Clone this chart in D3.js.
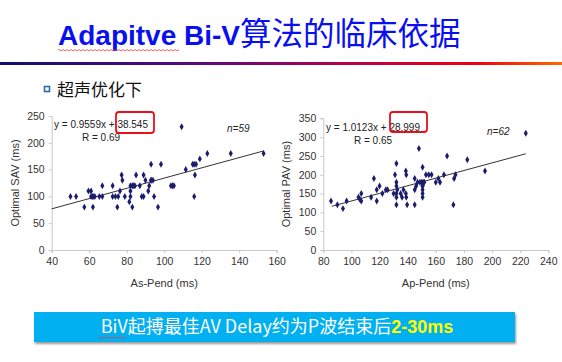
<!DOCTYPE html>
<html><head><meta charset="utf-8">
<script src="https://cdn.jsdelivr.net/npm/d3@7"></script>
<style>
body{margin:0;background:#fff;}
svg{display:block;}
</style></head>
<body>
<svg id="c" width="562" height="362"></svg>
<script>
// ---- data ----
const leftX = [50,53,57.4,59.6,61,61,62,63,62,65.4,67,67,72.5,72.5,74,75,75.5,76.4,77.3,77.7,79,81.4,82,82,82,83,83.6,84.4,85,87,88,89,89,90,91.5,92,93,93,94,94.6,96.7,98.3,103.6,104.5,105.2,109.3,111.5,115.2,116,116.4,116,117,119,123,135.5,153,62,93,83];
const leftY = [100,100,80,110,110,100,100,100,80,100,120,100,120,100,100,80,100,110,140,130,100,90,110,120,100,80,120,120,140,120,100,100,140,130,110,120,160,130,130,100,80,160,120,120,120,230,150,160,160,140,100,160,170,180,180,180,100,130,120];
const rightX = [85.5,90,94,96.6,105,106,107,107,114,116,118,118,120,122,124.5,125.7,130,131,132,132,132,132,132,132.6,135,136,137,138.7,138.7,139,139,139.6,145,145,145,146,147,148,148.7,150,150.6,150.6,150.6,150.6,150.6,151,151.8,153,155,157,160,161.8,163,165.8,168,172.5,173,174,182.4,195,224,132,150.6];
const rightY = [130,120,110,130,140,135,130,150,140,190,160,130,170,150,160,160,150,200,140,230,180,170,120,160,150,140,160,210,150,200,140,120,190,160,120,170,180,270,180,180,220,170,160,150,140,180,180,200,200,200,180,190,180,200,250,120,190,200,240,210,310,150,170];
const leftXTicks = [40,60,80,100,120,140,160];
const leftYTicks = [0,50,100,150,200,250];
const rightXTicks = [80,100,120,140,160,180,200,220,240];
const rightYTicks = [0,50,100,150,200,250,300,350];
const leftFit = {slope:0.9559, intercept:38.545, x0:40, x1:153};
const rightFit = {slope:1.0123, intercept:28.999, x0:86, x1:224};

const svg = d3.select("#c");
const F = "'Liberation Sans', Arial, sans-serif";
const CJK = "'Noto Sans CJK SC', sans-serif";

// ---- title ----
const title = svg.append("text").attr("x",58).attr("y",45).attr("fill","#0a0ff0");
title.append("tspan").attr("font-family",F).attr("font-weight","bold").attr("font-size",28).text("Adapitve Bi-V");
title.append("tspan").attr("font-family",CJK).attr("font-size",31.5).attr("font-weight",400).text("算法的临床依据");
// spell-check wavy underline under "Adapitve"
{
  let p = "M58,49.5"; for(let x=58;x<180;x+=2){p += ` L${x+1},${(x/2)%2===0?51:49.5}`;}
  svg.append("path").attr("d",p).attr("fill","none").attr("stroke","#e04040").attr("stroke-width",0.8);
}
// gradient rule
const defs = svg.append("defs");
const g = defs.append("linearGradient").attr("id","rule").attr("x1","0").attr("x2","1");
[[0,"#101070"],[0.35,"#5a0a80"],[0.6,"#b00050"],[0.85,"#f00010"],[1,"#ff6a00"]].forEach(([o,c])=>g.append("stop").attr("offset",o).attr("stop-color",c));
svg.append("rect").attr("x",0).attr("y",62).attr("width",562).attr("height",3).attr("fill","url(#rule)");

// bullet
svg.append("rect").attr("x",44.5).attr("y",86.5).attr("width",5).attr("height",5).attr("fill","#fff").attr("stroke","#2f6aa8").attr("stroke-width",1.6);
svg.append("text").attr("x",57).attr("y",96).attr("font-family",CJK).attr("font-size",17).attr("fill","#111").text("超声优化下");

// ---- charts ----
function chart(o){
  const x = d3.scaleLinear().domain(o.xd).range([o.l,o.r]);
  const y = d3.scaleLinear().domain(o.yd).range([250,o.t]);
  const gx = svg.append("g").attr("transform","translate(0,250)")
    .call(d3.axisBottom(x).tickValues(o.xt).tickSize(3).tickPadding(5));
  const gy = svg.append("g").attr("transform",`translate(${o.l},0)`)
    .call(d3.axisLeft(y).tickValues(o.yt).tickSize(3).tickPadding(4));
  [gx,gy].forEach(a=>{
    a.selectAll("path,line").attr("stroke","#c8c8c8");
    a.selectAll("text").attr("font-family",F).attr("font-size",10.5).attr("fill","#333");
  });
  // fit line
  svg.append("line")
    .attr("x1",x(o.fit.x0)).attr("y1",y(o.fit.slope*o.fit.x0+o.fit.intercept))
    .attr("x2",x(o.fit.x1)).attr("y2",y(o.fit.slope*o.fit.x1+o.fit.intercept))
    .attr("stroke","#333").attr("stroke-width",1);
  // points
  svg.append("g").selectAll("path").data(o.xs.map((d,i)=>[d,o.ys[i]])).join("path")
    .attr("d",d3.symbol(d3.symbolDiamond,14))
    .attr("transform",d=>`translate(${x(d[0])},${y(d[1])})`)
    .attr("fill","#1c1c6c");
  // labels
  svg.append("text").attr("x",(o.l+o.r)/2).attr("y",287).attr("text-anchor","middle")
    .attr("font-family",F).attr("font-size",11).attr("fill","#333").text(o.xl);
  svg.append("text").attr("transform",`translate(${o.yLx},${(250+o.t)/2}) rotate(-90)`).attr("text-anchor","middle")
    .attr("font-family",F).attr("font-size",11).attr("fill","#333").text(o.yl);
  svg.append("text").attr("x",o.eqx).attr("y",o.eqy).attr("font-family",F).attr("font-size",10).attr("fill","#222").text(o.eq);
  svg.append("text").attr("x",o.rx).attr("y",o.eqy+12.5).attr("font-family",F).attr("font-size",10).attr("fill","#222").text(o.rtext);
  svg.append("text").attr("x",o.nx).attr("y",o.eqy+4).attr("font-family",F).attr("font-size",10).attr("font-style","italic").attr("fill","#222").text(o.n);
  svg.append("rect").attr("x",o.box[0]).attr("y",o.box[1]).attr("width",o.box[2]).attr("height",o.box[3])
    .attr("rx",3).attr("fill","none").attr("stroke","#e8101a").attr("stroke-width",1.8);
}
chart({xd:[40,160],yd:[0,250],l:51.7,r:276.7,t:116,xt:leftXTicks,yt:leftYTicks,fit:leftFit,xs:leftX,ys:leftY,
  xl:"As-Pend (ms)",yl:"Optimal SAV (ms)",yLx:19,eq:"y = 0.9559x + 38.545",eqx:54,eqy:128,rtext:"R = 0.69",rx:82,n:"n=59",nx:227,
  box:[116,112,38,21]});
chart({xd:[80,240],yd:[0,350],l:323.3,r:548.3,t:118.3,xt:rightXTicks,yt:rightYTicks,fit:rightFit,xs:rightX,ys:rightY,
  xl:"Ap-Pend (ms)",yl:"Optimal PAV (ms)",yLx:290,eq:"y = 1.0123x + 28.999",eqx:326,eqy:131,rtext:"R = 0.65",rx:354,n:"n=62",nx:487,
  box:[390,112,37,20]});

// ---- banner ----
defs.append("filter").attr("id","sh").attr("x","-5%").attr("y","-20%").attr("width","110%").attr("height","160%")
  .append("feDropShadow").attr("dx",1).attr("dy",2).attr("stdDeviation",1.2).attr("flood-color","#000").attr("flood-opacity",0.4);
svg.append("rect").attr("x",34).attr("y",312).attr("width",481).attr("height",30).attr("fill","#00b0f0").attr("filter","url(#sh)");
const bt = svg.append("text").attr("x",277).attr("y",333).attr("text-anchor","middle").attr("font-size",18).attr("fill","#fff");
bt.append("tspan").attr("font-family",CJK).text("BiV起搏最佳AV Delay约为P波结束后");
bt.append("tspan").attr("font-family",F).attr("font-weight","bold").attr("fill","#ffff00").text("2-30ms");
{
  let p = "M99,337"; for(let x=99;x<127;x+=2){p += ` L${x+1},${(x-99)/2%2===0?338.5:337}`;}
  svg.append("path").attr("d",p).attr("fill","none").attr("stroke","#e04040").attr("stroke-width",0.8);
}
</script>
</body></html>
